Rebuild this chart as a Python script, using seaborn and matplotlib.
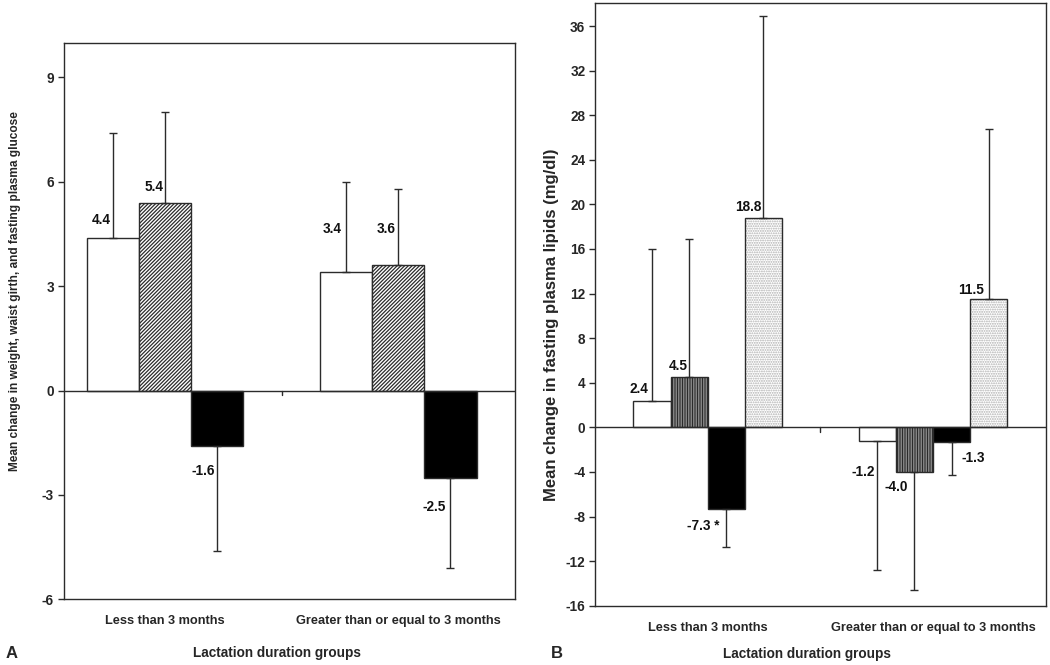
import numpy as np
import pandas as pd
import matplotlib
matplotlib.use("Agg")
import matplotlib.pyplot as plt
from matplotlib.container import BarContainer
from matplotlib.patches import Rectangle
import seaborn as sns

# ---------------- data ----------------
groups = ["Less than 3 months", "Greater than or equal to 3 months"]

# Panel A
a_measures = ["Weight", "Waist girth", "Fasting plasma glucose"]
a_weight = [4.4, 3.4]
a_waist = [5.4, 3.6]
a_glucose = [-1.6, -2.5]
a_weight_err = [3.0, 2.6]
a_waist_err = [2.6, 2.2]
a_glucose_err = [3.0, 2.6]
a_labels = [["4.4", "3.4"], ["5.4", "3.6"], ["-1.6", "-2.5"]]
a_yticks = [-6, -3, 0, 3, 6, 9]

# Panel B
b_measures = ["Total cholesterol", "LDL cholesterol", "HDL cholesterol", "Triglycerides"]
b_tc = [2.4, -1.2]
b_ldl = [4.5, -4.0]
b_hdl = [-7.3, -1.3]
b_tg = [18.8, 11.5]
b_tc_err = [13.6, 11.6]
b_ldl_err = [12.4, 10.6]
b_hdl_err = [3.4, 3.0]
b_tg_err = [18.1, 15.3]
b_labels = [["2.4", "-1.2"], ["4.5", "-4.0"], ["-7.3 *", "-1.3"], ["18.8", "11.5"]]
b_yticks = list(range(-16, 37, 4))

# ---------------- style ----------------
sns.set_style("white")
plt.rcParams["font.family"] = ["Liberation Sans", "DejaVu Sans"]
plt.rcParams["font.weight"] = "bold"
plt.rcParams["hatch.linewidth"] = 0.9

LINE = "#2b2b2b"

# label offsets (pixels) relative to (bar centre, bar end)
a_offsets = [[(-12, 18), (-14, 43)], [(-11, 16), (-12, 36)], [(-14, -25), (-16, -29)]]
b_offsets = [[(-13, 12), (-14, -31)], [(-11, 11), (-18, -15)],
             [(-23, -17), (22, -16)], [(-15, 11), (-18, 9)]]


def long_frame(measures, series):
    rows = []
    for m, vals in zip(measures, series):
        for g, v in zip(groups, vals):
            rows.append({"group": g, "measure": m, "value": v})
    return pd.DataFrame(rows)


def draw_panel(ax, measures, series, errs, labels, offsets, fills, hatches,
               hatch_colors, width, xlim, ylim, yticks, ylabel, ylabel_size,
               ylabel_coords, xlabel_coords, tickpad):
    df = long_frame(measures, series)
    sns.barplot(data=df, x="group", y="value", hue="measure", order=groups,
                hue_order=measures, palette=fills, width=width, gap=0,
                edgecolor=LINE, linewidth=1.0, errorbar=None, legend=False,
                saturation=1, ax=ax, zorder=2)
    bar_conts = [c for c in ax.containers if isinstance(c, BarContainer)]
    for ci, cont in enumerate(bar_conts):
        for bi, patch in enumerate(cont.patches):
            patch.set_hatch(hatches[ci])
            hc = hatch_colors[ci]
            if hc is not None:
                if hasattr(patch, "set_hatchcolor"):
                    patch.set_edgecolor(LINE)
                    patch.set_hatchcolor(hc)
                else:
                    patch.set_edgecolor(hc)
                    patch.set_linewidth(0)
                    ax.add_patch(Rectangle(patch.get_xy(), patch.get_width(),
                                           patch.get_height(), fill=False,
                                           edgecolor=LINE, linewidth=1.0, zorder=2.5))
            else:
                patch.set_edgecolor(LINE)
            xc = patch.get_x() + patch.get_width() / 2
            v = series[ci][bi]
            e = errs[ci][bi]
            yerr = [[0], [e]] if v >= 0 else [[e], [0]]
            ax.errorbar([xc], [v], yerr=yerr, fmt="none", ecolor=LINE,
                        elinewidth=1.0, capsize=2.6, capthick=1.0, zorder=3)
            dx, dy = offsets[ci][bi]
            ax.annotate(labels[ci][bi], xy=(xc, v), xytext=(dx, dy),
                        textcoords="offset pixels", ha="center", va="center",
                        fontsize=9.8, fontweight="bold", color="#111111")
    ax.axhline(0, color=LINE, lw=1.0, zorder=4)
    ax.set_xlim(*xlim)
    ax.set_ylim(*ylim)
    # small category divider tick on the zero line
    y0 = (0 - ylim[0]) / (ylim[1] - ylim[0])
    ax.axvline((len(groups) - 1) / 2, ymin=y0 - 0.008, ymax=y0, color=LINE, lw=1.0)
    ax.set_yticks(yticks)
    ax.set_yticklabels([str(t) for t in yticks], fontsize=9.8, fontweight="bold")
    ax.set_xticks(range(len(groups)))
    ax.set_xticklabels(groups, fontsize=9.2, fontweight="bold")
    ax.tick_params(axis="x", length=0, pad=tickpad)
    ax.tick_params(axis="y", length=4, width=1.0, color=LINE, pad=3, direction="out", left=True)
    for s in ax.spines.values():
        s.set_visible(True)
        s.set_color(LINE)
        s.set_linewidth(1.0)
    ax.set_ylabel(ylabel, fontsize=ylabel_size, fontweight="bold")
    ax.yaxis.set_label_coords(*ylabel_coords)
    ax.set_xlabel("Lactation duration groups", fontsize=9.8, fontweight="bold")
    ax.xaxis.set_label_coords(*xlabel_coords)
    ax.set_facecolor("white")


fig = plt.figure(figsize=(10.5, 6.65), dpi=100)
fig.patch.set_facecolor("white")

axA = fig.add_axes([0.0607, 0.0988, 0.4298, 0.8370])
axB = fig.add_axes([0.5667, 0.0892, 0.4292, 0.9068])

draw_panel(axA, a_measures, [a_weight, a_waist, a_glucose],
           [a_weight_err, a_waist_err, a_glucose_err], a_labels, a_offsets,
           ["white", "white", "black"], ["", "/" * 9, ""], [None, None, None],
           width=0.67, xlim=(-0.435, 1.5), ylim=(-6, 10), yticks=a_yticks,
           ylabel="Mean change in weight, waist girth, and fasting plasma glucose",
           ylabel_size=8.6, ylabel_coords=(-0.094, 0.553),
           xlabel_coords=(0.472, -0.084), tickpad=11)

draw_panel(axB, b_measures, [b_tc, b_ldl, b_hdl, b_tg],
           [b_tc_err, b_ldl_err, b_hdl_err, b_tg_err], b_labels, b_offsets,
           ["white", "white", "black", "white"], ["", "|" * 10, "", "." * 7],
           [None, None, None, "#b0b0b0"],
           width=0.66, xlim=(-0.5, 1.5), ylim=(-16, 38.1), yticks=b_yticks,
           ylabel="Mean change in fasting plasma lipids (mg/dl)",
           ylabel_size=12, ylabel_coords=(-0.08, 0.466),
           xlabel_coords=(0.470, -0.068), tickpad=12)

fig.text(12 / 1050, 1 - 653 / 665, "A", fontsize=12, fontweight="bold", ha="center", va="center")
fig.text(557 / 1050, 1 - 653 / 665, "B", fontsize=12, fontweight="bold", ha="center", va="center")

fig.savefig("out.png", dpi=100, facecolor="white")
